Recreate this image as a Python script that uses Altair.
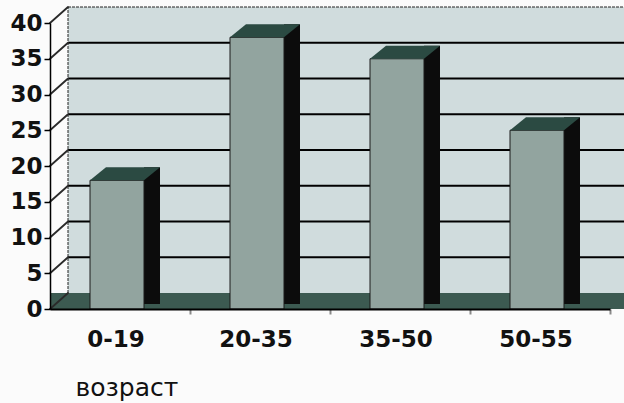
import altair as alt
import pandas as pd

categories = ["0-19", "20-35", "35-50", "50-55"]
values = [18, 38, 35, 25]
y_ticks = [0, 5, 10, 15, 20, 25, 30, 35, 40]
x_title = "возраст"

n = len(categories)
y_max = max(y_ticks)

bars = pd.DataFrame({
    "cat": categories,
    "value": values,
    "pos": [i + 0.5 for i in range(n)],
    "base": [0] * n,
})
grid = pd.DataFrame({
    "v": y_ticks,
    "x0": [0] * len(y_ticks),
    "x1": [n] * len(y_ticks),
})
inner_grid = grid[(grid.v > 0) & (grid.v < y_max)]
wall = pd.DataFrame({"x0": [0], "x1": [n], "y0": [0], "y1": [y_max]})

# 3D styling (pixel offsets)
DX, DY = 18, -16      # depth of the chart box
BW = 54               # bar front width
BDX, BDY = 16, -13    # bar depth
XO = -3               # small perspective shift of bars

WALL = "#d0dcdd"
FRONT = "#92a49f"
TOP = "#2b4a42"
SIDE = "#0c0c0c"
FLOOR = "#3c5a51"

xs = alt.Scale(domain=[0, n], nice=False, zero=False)
ys = alt.Scale(domain=[0, y_max], nice=False)

XAX = alt.Axis(
    values=[1, 2, 3, 4], labels=False, tickColor="#8a8a8a", tickSize=5,
    tickWidth=2, domainColor="black", domainWidth=2, grid=False,
    title=x_title, titleFont="DejaVu Sans", titleFontSize=25,
    titleFontWeight="normal", titleColor="#111", titleAlign="left",
    titleBaseline="middle", titleX=25, titleY=78, zindex=5,
)
YAX = alt.Axis(
    values=y_ticks, labelFont="DejaVu Sans", labelFontWeight="bold",
    labelFontSize=23, labelColor="#111", tickColor="black", tickSize=6,
    tickWidth=1.5, domainColor="black", domainWidth=1.5, grid=False,
    title="", labelPadding=2, zindex=5,
)


def X(f):
    return alt.X(f, scale=xs, axis=XAX)


def Y(f):
    return alt.Y(f, scale=ys, axis=YAX)


back_wall = alt.Chart(wall).mark_rect(
    color=WALL, xOffset=DX, x2Offset=DX, yOffset=DY, y2Offset=DY
).encode(x=X("x0:Q"), x2="x1:Q", y=Y("y0:Q"), y2="y1:Q")

wall_grid = alt.Chart(inner_grid).mark_rule(
    color="black", strokeWidth=2, xOffset=DX, x2Offset=DX, yOffset=DY, y2Offset=DY
).encode(x=X("x0:Q"), x2="x1:Q", y=Y("v:Q"))

wall_top = alt.Chart(wall).mark_rule(
    color="#222", strokeWidth=1, strokeDash=[3, 1],
    xOffset=DX, x2Offset=DX, yOffset=DY, y2Offset=DY
).encode(x=X("x0:Q"), x2="x1:Q", y=Y("y1:Q"))

wall_left = alt.Chart(wall).mark_rule(
    color="#222", strokeWidth=1, strokeDash=[3, 1],
    xOffset=DX, x2Offset=DX, yOffset=DY, y2Offset=DY
).encode(x=X("x0:Q"), y=Y("y0:Q"), y2="y1:Q")

# slanted side-wall gridlines: a stroked diagonal symbol anchored at each tick
half_d = DX / 2
side_path = f"M0,0L{round(DX / half_d, 4)},{round(DY / half_d, 4)}"
side_lines = alt.Chart(grid).mark_point(
    shape=side_path, size=(2 * half_d) ** 2, filled=False, stroke="#2a2a2a",
    strokeWidth=1.8, opacity=1, strokeCap="round"
).encode(x=X("x0:Q"), y=Y("v:Q"))

floor = alt.Chart(wall).mark_rect(
    color=FLOOR, x2Offset=DX, y2Offset=DY
).encode(x=X("x0:Q"), x2="x1:Q", y=Y("y0:Q"), y2="y0:Q")

bar_side = alt.Chart(bars).mark_rect(
    color=SIDE, xOffset=BW / 2 + XO, x2Offset=BW / 2 + XO + BDX,
    yOffset=BDY, y2Offset=-5
).encode(x=X("pos:Q"), x2="pos:Q", y=Y("value:Q"), y2="base:Q")

bar_front = alt.Chart(bars).mark_rect(
    color=FRONT, xOffset=-BW / 2 + XO, x2Offset=BW / 2 + XO,
    stroke="#1a1a1a", strokeWidth=1
).encode(x=X("pos:Q"), x2="pos:Q", y=Y("value:Q"), y2="base:Q")

half = (BW + BDX) / 2
u = lambda p: round(p / half, 4)
top_path = (
    f"M{u(-half)},{u(-BDY / 2)}L{u(BW - half)},{u(-BDY / 2)}"
    f"L{u(half)},{u(BDY / 2)}L{u(BDX - half)},{u(BDY / 2)}Z"
)
bar_top = alt.Chart(bars).mark_point(
    shape=top_path, size=(2 * half) ** 2, filled=True, color=TOP, opacity=1,
    strokeWidth=0, xOffset=XO + BDX / 2, yOffset=BDY / 2
).encode(x=X("pos:Q"), y=Y("value:Q"))

cat_labels = alt.Chart(bars).mark_text(
    font="DejaVu Sans", fontWeight="bold", fontSize=23, color="#111",
    baseline="middle", align="center", dy=31, dx=-4
).encode(x=X("pos:Q"), y=Y("base:Q"), text="cat:N")

chart = alt.layer(
    back_wall, wall_grid, wall_top, wall_left, floor, side_lines,
    bar_side, bar_front, bar_top, cat_labels
).properties(
    width=560, height=286,
    autosize=alt.AutoSizeParams(type="none"),
    padding={"left": 50, "top": 23, "right": 14, "bottom": 94},
    background="#fbfbfb",
).configure_view(stroke=None)

chart.save("out.html", embed_options={"renderer": "svg", "actions": False})
